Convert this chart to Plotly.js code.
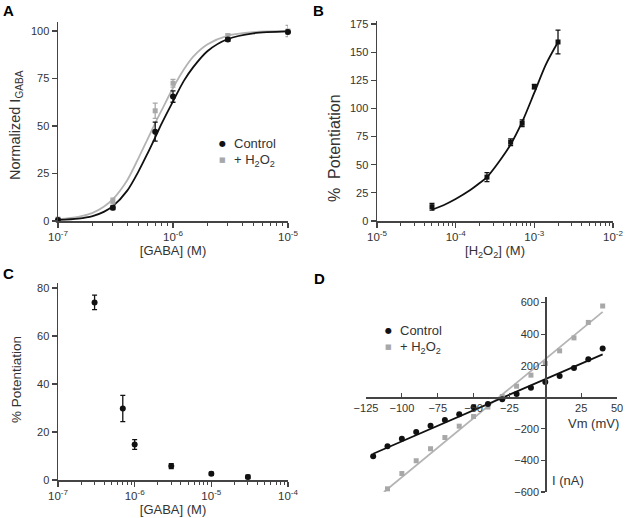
<!DOCTYPE html>
<html>
<head>
<meta charset="utf-8">
<script src="https://cdn.plot.ly/plotly-3.0.1.min.js"></script>
<style>html,body{margin:0;padding:0;background:#fff}#chart{width:629px;height:518px}</style>
</head>
<body>
<div id="chart"></div>
<script>
// ---------- DATA ----------
// Panel A: GABA concentration-response (normalized I_GABA)
const aGaba = [1e-7, 3e-7, 7e-7, 1e-6, 3e-6, 1e-5];
const aControl = [0.5, 7, 47, 65.5, 95.5, 99.5];
const aControlErr = [0.5, 1, 5, 3, 1, 1];
const aH2O2 = [1, 10.5, 58, 72.5, 97.5, 100];
const aH2O2Err = [0.5, 1.5, 4, 2, 1, 3];
// fitted curves
const aFitGaba = [1e-7, 1.5e-7, 2e-7, 2.5e-7, 3e-7, 4e-7, 5e-7, 6e-7, 7e-7, 8e-7, 1e-6, 1.25e-6, 1.5e-6, 2e-6, 3e-6, 5e-6, 1e-5];
const aFitControl = [0.6, 1.3, 2.6, 4.8, 7.8, 16, 26, 35.5, 44, 51.5, 63, 74, 81, 89.5, 95.8, 98.8, 99.8];
const aFitH2O2 = [1, 2.2, 4.3, 7.5, 11.5, 21.5, 33, 43, 51.5, 58.5, 70, 80, 86.5, 93, 97.6, 99.4, 100];

// Panel B: H2O2 concentration-response (% potentiation)
const bH2O2 = [5e-5, 2.5e-4, 5e-4, 7e-4, 1e-3, 2e-3];
const bPot = [12.7, 39, 70, 86.8, 119.3, 159];
const bPotErr = [3, 4, 3, 3, 2, 10.5];
const bFitH2O2 = [5e-5, 7e-5, 1e-4, 1.5e-4, 2e-4, 2.5e-4, 3.5e-4, 5e-4, 7e-4, 1e-3, 1.4e-3, 2e-3];
const bFitPot = [10, 14, 19.5, 27, 33.5, 39, 52, 68, 88, 114, 139, 159];

// Panel C: potentiation vs GABA
const cGaba = [3e-7, 7e-7, 1e-6, 3e-6, 1e-5, 3e-5];
const cPot = [74, 29.8, 14.8, 5.8, 2.6, 1.3];
const cPotErr = [3, 5.5, 2, 1, 0.7, 0.7];

// Panel D: I-V relationship
const dVmControl = [-120, -110, -100, -90, -80, -70, -60, -50, -40, -30, -20, -10, 0, 10, 20, 30, 40];
const dIControl = [-374, -310, -262, -220, -180, -144, -107, -64, -42, -12, 21, 60, 97, 135, 186, 241, 309];
const dVmH2O2 = [-110, -100, -90, -80, -70, -60, -50, -40, -30, -20, -10, 0, 10, 20, 30, 40];
const dIH2O2 = [-580, -483, -402, -326, -255, -183, -122, -62, 5, 70, 140, 214, 294, 376, 474, 578];
const dLineVmControl = [-120, 40];
const dLineIControl = [-358, 272];
const dLineVmH2O2 = [-112.5, 40];
const dLineIH2O2 = [-600, 541];

// tick labels
const logTickText = {"-7": "10<sup>-7</sup>", "-6": "10<sup>-6</sup>", "-5": "10<sup>-5</sup>", "-4": "10<sup>-4</sup>", "-3": "10<sup>-3</sup>", "-2": "10<sup>-2</sup>"};
const aYTicks = [0, 25, 50, 75, 100];
const bYTicks = [0, 25, 50, 75, 100, 125, 150, 175];
const cYTicks = [0, 20, 40, 60, 80];
const dXTicks = [-125, -100, -75, -50, -25, 25, 50];
const dYTicks = [-600, -400, -200, 200, 400, 600];

// ---------- STYLE ----------
const W = 629, H = 518;
const BLACK = '#111111', GRAY = '#a8a8a8', GRAYLINE = '#b4b4b4', AXIS = '#444444', TXT = '#333333';
const FONT = 'Liberation Sans, Arial, sans-serif';
const px = v => v / W, py = v => 1 - v / H;

function decades(lo, hi) { const v = [], t = []; for (let e = lo; e <= hi; e++) { v.push(Math.pow(10, e)); t.push(logTickText[String(e)]); } return {v, t}; }
function minors(lo, hi) { const v = []; for (let e = lo; e < hi; e++) for (let k = 2; k <= 9; k++) v.push(k * Math.pow(10, e)); return v; }

function logAxis(lo, hi, dom, anchor, title) {
  const d = decades(lo, hi);
  const ax = {
    type: 'log', range: [lo, hi], domain: dom, anchor: anchor,
    showline: true, linecolor: AXIS, linewidth: 1.5, mirror: false,
    showgrid: false, zeroline: false,
    tickmode: 'array', tickvals: d.v, ticktext: d.t,
    ticks: 'outside', ticklen: 5, tickwidth: 1.2, tickcolor: AXIS,
    tickfont: {family: FONT, size: 11.5, color: TXT},
    minor: {tickmode: 'array', tickvals: minors(lo, hi), ticks: 'outside', ticklen: 3, tickwidth: 1, tickcolor: AXIS, showgrid: false}
  };
  if (title) ax.title = {text: title, font: {family: FONT, size: 13, color: TXT}, standoff: 3};
  return ax;
}
function linAxis(range, dom, anchor, ticks) {
  return {
    range: range, domain: dom, anchor: anchor,
    showline: true, linecolor: AXIS, linewidth: 1.5,
    showgrid: false, zeroline: false,
    tickmode: 'array', tickvals: ticks,
    ticks: 'outside', ticklen: 5, tickwidth: 1.2, tickcolor: AXIS,
    tickfont: {family: FONT, size: 11, color: TXT}
  };
}

const errStyle = (arr, color) => ({type: 'data', array: arr, visible: true, color: color, thickness: 1.3, width: 2.5});

const traces = [
  // A
  {x: aFitGaba, y: aFitH2O2, xaxis: 'x', yaxis: 'y', mode: 'lines', line: {color: GRAYLINE, width: 1.8, shape: 'spline', smoothing: 0.8}, name: '+ H2O2 fit', showlegend: false, hoverinfo: 'skip'},
  {x: aFitGaba, y: aFitControl, xaxis: 'x', yaxis: 'y', mode: 'lines', line: {color: BLACK, width: 1.8, shape: 'spline', smoothing: 0.8}, name: 'Control fit', showlegend: false, hoverinfo: 'skip'},
  {x: aGaba, y: aH2O2, xaxis: 'x', yaxis: 'y', mode: 'markers', marker: {symbol: 'square', size: 5, color: GRAY}, error_y: errStyle(aH2O2Err, GRAY), name: '+ H2O2', showlegend: false, cliponaxis: false},
  {x: aGaba, y: aControl, xaxis: 'x', yaxis: 'y', mode: 'markers', marker: {symbol: 'circle', size: 6, color: BLACK}, error_y: errStyle(aControlErr, BLACK), name: 'Control', showlegend: false, cliponaxis: false},
  // B
  {x: bFitH2O2, y: bFitPot, xaxis: 'x2', yaxis: 'y2', mode: 'lines', line: {color: BLACK, width: 1.8, shape: 'spline', smoothing: 0.8}, showlegend: false, hoverinfo: 'skip'},
  {x: bH2O2, y: bPot, xaxis: 'x2', yaxis: 'y2', mode: 'markers', marker: {symbol: 'square', size: 5, color: BLACK}, error_y: errStyle(bPotErr, BLACK), showlegend: false, cliponaxis: false},
  // C
  {x: cGaba, y: cPot, xaxis: 'x3', yaxis: 'y3', mode: 'markers', marker: {symbol: 'circle', size: 6, color: BLACK}, error_y: errStyle(cPotErr, BLACK), showlegend: false, cliponaxis: false},
  // D
  {x: dLineVmH2O2, y: dLineIH2O2, xaxis: 'x4', yaxis: 'y4', mode: 'lines', line: {color: GRAYLINE, width: 1.8}, showlegend: false, hoverinfo: 'skip'},
  {x: dLineVmControl, y: dLineIControl, xaxis: 'x4', yaxis: 'y4', mode: 'lines', line: {color: BLACK, width: 1.8}, showlegend: false, hoverinfo: 'skip'},
  {x: dVmH2O2, y: dIH2O2, xaxis: 'x4', yaxis: 'y4', mode: 'markers', marker: {symbol: 'square', size: 5, color: GRAY}, name: '+ H2O2', showlegend: false, cliponaxis: false},
  {x: dVmControl, y: dIControl, xaxis: 'x4', yaxis: 'y4', mode: 'markers', marker: {symbol: 'circle', size: 6, color: BLACK}, name: 'Control', showlegend: false, cliponaxis: false}
];

// domains (pixel positions from reference)
const domAx = [px(58), px(288)], domAy = [py(221), py(21.5)];
const domBx = [px(377), px(613)], domBy = [py(221), py(20.6)];
const domCx = [px(58), px(288)], domCy = [py(480), py(283.2)];
const domDx = [px(366), px(617)], domDy = [py(492), py(297)];
const dXRange = [-125, 50], dYRange = [-600, 635];
const dXPos = domDy[0] + (0 - dYRange[0]) / (dYRange[1] - dYRange[0]) * (domDy[1] - domDy[0]);
const dYPos = domDx[0] + (0 - dXRange[0]) / (dXRange[1] - dXRange[0]) * (domDx[1] - domDx[0]);

const xD = linAxis(dXRange, domDx, 'free', dXTicks);
xD.position = dXPos; xD.ticks = 'inside'; xD.ticklen = 4;
const yD = linAxis(dYRange, domDy, 'free', dYTicks);
yD.position = dYPos; yD.ticklen = 4;

const ann = (x, y, text, opts) => Object.assign({xref: 'paper', yref: 'paper', x: px(x), y: py(y), text: text, showarrow: false, xanchor: 'center', yanchor: 'middle', font: {family: FONT, size: 13, color: TXT}}, opts || {});
const bold = {font: {family: FONT, size: 15, color: '#000'}};

const layout = {
  width: W, height: H,
  margin: {l: 0, r: 0, t: 0, b: 0},
  paper_bgcolor: '#fff', plot_bgcolor: 'rgba(0,0,0,0)',
  showlegend: false,
  font: {family: FONT, color: TXT},
  xaxis: logAxis(-7, -5, domAx, 'y', '[GABA] (M)'),
  yaxis: linAxis([0, 105], domAy, 'x', aYTicks),
  xaxis2: logAxis(-5, -2, domBx, 'y2', '[H<sub>2</sub>O<sub>2</sub>] (M)'),
  yaxis2: linAxis([0, 178], domBy, 'x2', bYTicks),
  xaxis3: logAxis(-7, -4, domCx, 'y3', '[GABA] (M)'),
  yaxis3: linAxis([0, 82], domCy, 'x3', cYTicks),
  xaxis4: xD,
  yaxis4: yD,
  annotations: [
    ann(8, 11, '<b>A</b>', bold), ann(318, 11, '<b>B</b>', bold),
    ann(8, 273, '<b>C</b>', bold), ann(319, 278, '<b>D</b>', bold),
    ann(16, 125, 'Normalized I<sub>GABA</sub>', {textangle: -90, font: {family: FONT, size: 14.5, color: TXT}}),
    ann(334, 148, '%  Potentiation', {textangle: -90, font: {family: FONT, size: 16, color: TXT}}),
    ann(16, 380, '% Potentiation', {textangle: -90, font: {family: FONT, size: 13.5, color: TXT}}),
    ann(593, 423, 'Vm (mV)'),
    ann(568, 480, 'I (nA)'),
    // legend A
    ann(222, 143.5, '●', {font: {family: 'DejaVu Sans', size: 8, color: BLACK}}),
    ann(232, 143.5, 'Control', {xanchor: 'left'}),
    ann(222, 159.5, '■', {font: {family: 'DejaVu Sans', size: 7, color: GRAY}}),
    ann(232, 160, '+ H<sub>2</sub>O<sub>2</sub>', {xanchor: 'left'}),
    // legend D
    ann(388, 330.5, '●', {font: {family: 'DejaVu Sans', size: 8, color: BLACK}}),
    ann(398, 330.5, 'Control', {xanchor: 'left'}),
    ann(388, 347, '■', {font: {family: 'DejaVu Sans', size: 7, color: GRAY}}),
    ann(398, 347.5, '+ H<sub>2</sub>O<sub>2</sub>', {xanchor: 'left'})
  ]
};

Plotly.newPlot('chart', traces, layout, {displayModeBar: false, staticPlot: true});
</script>
</body>
</html>
